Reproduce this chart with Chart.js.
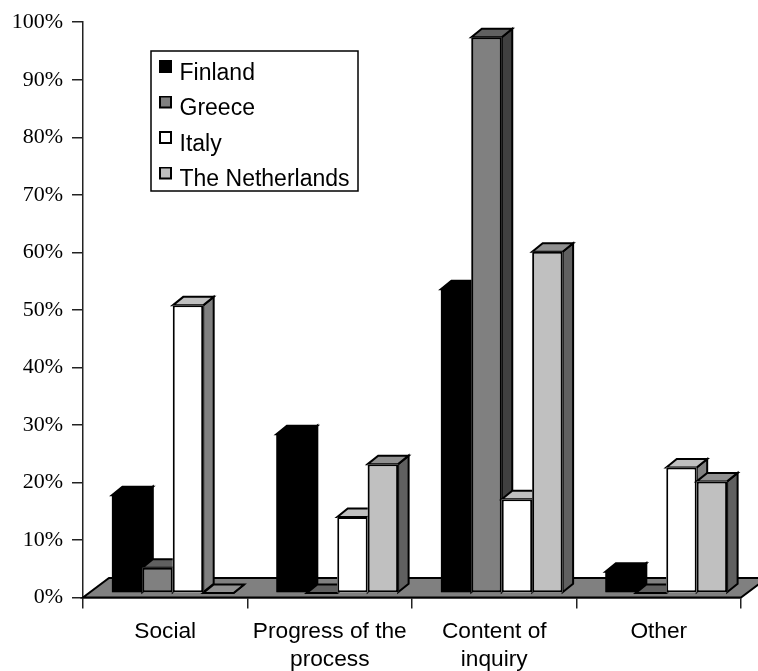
<!DOCTYPE html>
<html>
<head>
<meta charset="utf-8">
<style>html,body{margin:0;padding:0;background:#fff}canvas{display:block}</style>
<script src="https://cdn.jsdelivr.net/npm/chart.js@4"></script>
</head>
<body>
<canvas id="c" width="758" height="671"></canvas>
<script>
const categories = [["Social"], ["Progress of the", "process"], ["Content of", "inquiry"], ["Other"]];
const tickValues = [0, 10, 20, 30, 40, 50, 60, 70, 80, 90, 100];
const finland = [17, 27.6, 52.8, 3.7];
const greece = [4.4, 0, 96.6, 0];
const italy = [50, 13.2, 16.3, 21.8];
const netherlands = [0, 22.4, 59.3, 19.4];

const frontColors = ["#000000", "#808080", "#ffffff", "#c0c0c0"];
const sideColors = ["#000000", "#404040", "#808080", "#606060"];
const topColors = ["#000000", "#606060", "#c0c0c0", "#909090"];

// Pseudo-3D extrusion of the bars and the floor slab
const barDepth = { x: 10.5, y: -8.5 };
const barLift = { x: 7.5, y: -4.5 };
const floorDepth = { x: 26, y: -19.5 };
const legendFrame = { left: 151, top: 51, right: 358, bottom: 191 };
const legendPadding = 12.5;

function poly(ctx, pts, fill) {
  ctx.beginPath();
  pts.forEach((p, i) => i ? ctx.lineTo(p[0], p[1]) : ctx.moveTo(p[0], p[1]));
  ctx.closePath();
  ctx.fillStyle = fill;
  ctx.fill();
  ctx.stroke();
}

// Legend swatch sitting a little above the text's centre line
function swatch(color) {
  const c = document.createElement("canvas");
  c.width = 13; c.height = 27;
  const g = c.getContext("2d");
  g.fillStyle = color;
  g.strokeStyle = "#000";
  g.lineWidth = 2;
  g.fillRect(1, 1, 11, 11);
  g.strokeRect(1, 1, 11, 11);
  return c;
}

const extrude = {
  id: "extrude",
  afterLayout(chart) {
    // Place the legend inside the plot, on its framed box
    const lg = chart.legend;
    lg.left = 150.5;
    lg.top = 49.5;
    lg.right = legendFrame.right;
    lg.bottom = 300;
    lg.width = lg.right - lg.left;
    lg.height = lg.bottom - lg.top;
  },
  beforeDatasetsDraw(chart) {
    const { ctx, chartArea: a } = chart;
    ctx.save();
    ctx.strokeStyle = "#000";
    ctx.lineWidth = 2;
    ctx.lineJoin = "miter";
    const y0 = chart.scales.y.getPixelForValue(0);
    poly(ctx, [[a.left, y0], [a.right, y0], [a.right + floorDepth.x, y0 + floorDepth.y], [a.left + floorDepth.x, y0 + floorDepth.y]], "#808080");
    ctx.lineWidth = 1.5;
    ctx.strokeRect(legendFrame.left, legendFrame.top, legendFrame.right - legendFrame.left, legendFrame.bottom - legendFrame.top);

    // Paint series left to right, so each front face covers its neighbour's side
    ctx.translate(barLift.x, barLift.y);
    ctx.lineWidth = 2;
    chart.data.datasets.forEach((ds, i) => {
      const meta = chart.getDatasetMeta(i);
      meta.data.forEach(bar => {
        const l = bar.x - bar.width / 2, r = bar.x + bar.width / 2, t = bar.y, b = bar.base;
        const dx = barDepth.x, dy = barDepth.y;
        poly(ctx, [[r, t], [r + dx, t + dy], [r + dx, b + dy], [r, b]], sideColors[i]);
        poly(ctx, [[l, t], [l + dx, t + dy], [r + dx, t + dy], [r, t]], topColors[i]);
        // Solid underlay hides the hairline between a bar's border and its fill
        ctx.fillStyle = frontColors[i];
        ctx.fillRect(l, t, r - l, b - t);
      });
      meta.controller.draw();
    });
    ctx.restore();
  },
  // Everything was already painted in the pass above
  beforeDatasetDraw() {
    return false;
  }
};

function series(label, data, idx) {
  return {
    label, data,
    backgroundColor: frontColors[idx],
    borderColor: "#000",
    borderWidth: 2,
    borderSkipped: false,
    clip: false,
    categoryPercentage: 0.74,
    barPercentage: 1
  };
}

new Chart(document.getElementById("c"), {
  type: "bar",
  data: {
    labels: categories,
    datasets: [
      series("Finland", finland, 0),
      series("Greece", greece, 1),
      series("Italy", italy, 2),
      series("The Netherlands", netherlands, 3)
    ]
  },
  plugins: [extrude],
  options: {
    responsive: false,
    animation: false,
    devicePixelRatio: 1,
    layout: { padding: { top: 20, right: 17, left: 0, bottom: 0 } },
    plugins: {
      tooltip: { enabled: false },
      legend: {
        position: "chartArea",
        align: "start",
        labels: {
          color: "#000",
          font: { family: "'Liberation Sans'", size: 23, lineHeight: "27px" },
          boxHeight: 12,
          usePointStyle: true,
          pointStyleWidth: 5,
          padding: legendPadding,
          generateLabels: chart =>
            Chart.defaults.plugins.legend.labels.generateLabels(chart)
              .map((item, i) => ({ ...item, pointStyle: swatch(frontColors[i]) }))
        }
      }
    },
    scales: {
      x: {
        afterFit: s => { s.height = 73.5; },
        border: { display: true, color: "#222", width: 1.5 },
        grid: { display: true, drawOnChartArea: false, drawTicks: true, tickLength: 11, color: "#222", lineWidth: 1.5 },
        ticks: { color: "#000", padding: 9, maxRotation: 0, autoSkip: false, font: { family: "'Liberation Sans'", size: 22.7, lineHeight: 1.25 } }
      },
      y: {
        min: 0, max: 100,
        afterFit: s => { s.width = 83; },
        afterBuildTicks: s => { s.ticks = tickValues.map(value => ({ value })); },
        border: { display: true, color: "#222", width: 1.5 },
        grid: { display: true, drawOnChartArea: false, drawTicks: true, tickLength: 11, color: "#222", lineWidth: 1.5 },
        ticks: { color: "#000", padding: 9, callback: v => v + "%", font: { family: "'Liberation Serif'", size: 22 } }
      }
    }
  }
});
</script>
</body>
</html>
